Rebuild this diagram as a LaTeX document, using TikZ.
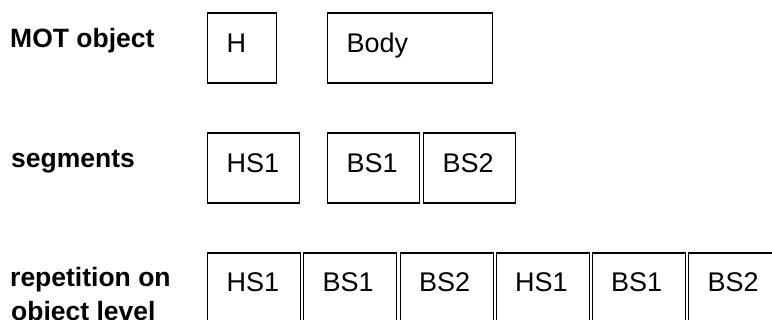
\documentclass[tikz,border=0pt]{standalone}
\usepackage{fontspec}
\setmainfont{Liberation Sans}
\begin{document}
\begin{tikzpicture}[x=1pt,y=-1pt,
  cell/.style={draw, line width=1.4pt, anchor=north west, inner xsep=19pt, inner ysep=0pt,
    text height=39pt, text depth=31pt, align=left, font=\fontsize{27}{30}\selectfont},
  tallcell/.style={cell, text height=38pt, text depth=80pt},
  rowlabel/.style={anchor=base west, inner sep=0pt, font=\fontsize{26.5}{30}\selectfont\bfseries}]
\useasboundingbox (0,0) rectangle (772,320);
\clip (0,0) rectangle (772,320);
% row labels
\node[rowlabel] (l1) at (10,48) {MOT object};
\node[rowlabel] (l2) at (11,168) {segments};
\node[rowlabel] (l3a) at (10,287) {repetition on};
\node[rowlabel] (l3b) at (11,321) {object level};
% MOT object
\node[cell, text width=31pt] (h) at (207,12.5) {H};
\node[cell, text width=127pt] (body) at (327,12.5) {Body};
% segments
\node[cell, text width=54pt] (hs1) at (207,132.5) {HS1};
\node[cell, text width=54pt] (bs1) at (327,132.5) {BS1};
\node[cell, text width=54pt] (bs2) at (423,132.5) {BS2};
% repetition
\node[tallcell, text width=55pt] (r1) at (207,252.5) {HS1};
\node[tallcell, text width=55pt] (r2) at (303,252.5) {BS1};
\node[tallcell, text width=55pt] (r3) at (399.5,252.5) {BS2};
\node[tallcell, text width=55pt] (r4) at (495.5,252.5) {HS1};
\node[tallcell, text width=55pt] (r5) at (591.5,252.5) {BS1};
\node[tallcell, text width=55pt] (r6) at (688,252.5) {BS2};
\end{tikzpicture}
\end{document}
